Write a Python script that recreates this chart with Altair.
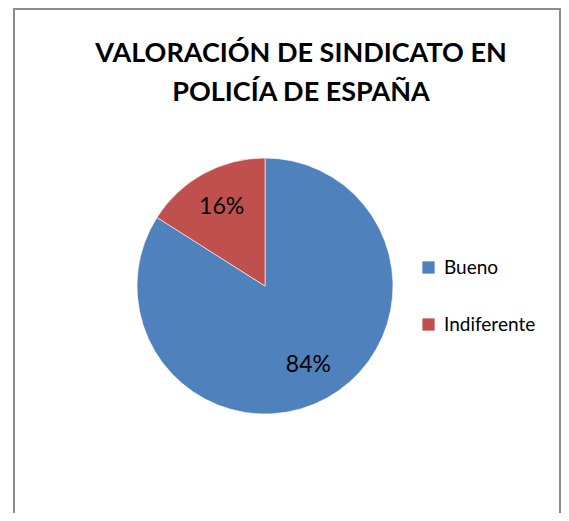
import altair as alt
import pandas as pd

categories = ["Bueno", "Indiferente"]
values = [84, 16]
labels = ["84%", "16%"]
colors = ["#4f81bd", "#c0504d"]
title_lines = ["VALORACIÓN DE SINDICATO EN", "POLICÍA DE ESPAÑA"]

df = pd.DataFrame({"category": categories, "value": values, "label": labels})
title_df = pd.DataFrame({"title": [title_lines[0] + "\n" + title_lines[1]]})

CX, CY, R = 252, 168, 128

base = alt.Chart(df).encode(
    theta=alt.Theta("value:Q", stack=True),
    order=alt.Order("category:N"),
)

pie = base.mark_arc(radius=R, stroke="#ffffff", strokeWidth=0.6).encode(
    x=alt.value(CX),
    y=alt.value(CY),
    color=alt.Color(
        "category:N",
        scale=alt.Scale(domain=categories, range=colors),
        legend=alt.Legend(
            title=None,
            orient="none",
            legendX=406,
            legendY=140,
            symbolType="square",
            symbolSize=150,
            symbolStrokeWidth=0,
            labelFont="Lato",
            labelFontSize=19,
            labelColor="#000000",
            labelOffset=6,
            rowPadding=37,
        ),
    ),
)

text = base.mark_text(radius=90, font="Lato", fontSize=23, color="#000000").encode(
    x=alt.value(CX),
    y=alt.value(CY),
    text="label:N",
    detail="category:N",
)

title = alt.Chart(title_df).mark_text(
    font="Lato",
    fontSize=27,
    fontWeight="bold",
    color="#000000",
    align="center",
    baseline="alphabetic",
    lineBreak="\n",
    lineHeight=39,
).encode(
    x=alt.value(288),
    y=alt.value(-56),
    text="title:N",
)

border_color = "#8c8c8c"
left = alt.Chart(title_df).mark_rule(color=border_color, strokeWidth=2).encode(
    x=alt.value(1), y=alt.value(-109), y2=alt.value(395)
)
right = alt.Chart(title_df).mark_rule(color=border_color, strokeWidth=2).encode(
    x=alt.value(547), y=alt.value(-109), y2=alt.value(395)
)
top = alt.Chart(title_df).mark_rule(color=border_color, strokeWidth=2).encode(
    x=alt.value(0), x2=alt.value(548), y=alt.value(-109)
)

chart = alt.layer(left, right, top, title, pie, text).properties(
    width=548,
    height=395,
    autosize=alt.AutoSizeParams(type="none"),
    padding={"left": 5, "top": 110, "right": 0, "bottom": 0},
).configure_view(stroke=None)

chart.save("out.html", embed_options={"renderer": "svg", "actions": False})
